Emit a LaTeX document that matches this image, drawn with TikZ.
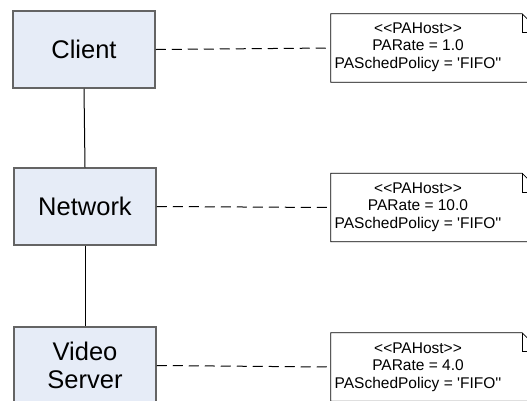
\documentclass[tikz,border=0pt]{standalone}
\usepackage{fontspec}
\setmainfont{Liberation Sans}
\definecolor{boxfill}{RGB}{230,236,247}
\definecolor{boxedge}{RGB}{100,100,100}
\tikzset{
  unit/.style={draw=boxedge, line width=1.5pt, fill=boxfill,
    minimum width=142pt, minimum height=77pt, inner sep=0pt,
    font=\fontsize{25.5}{28}\selectfont, align=center},
  notebox/.style={minimum width=210pt, minimum height=68pt, inner sep=0pt},
  notetext/.style={font=\fontsize{15.5}{17.5}\selectfont, align=center, inner sep=0pt},
  link/.style={line width=1pt, black},
  tie/.style={line width=1pt, black, dash pattern=on 10pt off 6pt},
  dogear/.style={line width=0.8pt, black}
}
% kerns keep the angle brackets from merging into guillemets
\newcommand{\hostnote}[1]{\textless\kern0pt\textless\kern0pt PAHost\kern0pt\textgreater\kern0pt\textgreater\\
  PARate = #1\\
  PASchedPolicy = \textquotesingle FIFO\textquotesingle\kern0pt\textquotesingle}
\begin{document}
\begin{tikzpicture}[x=1pt, y=-1pt]
  \useasboundingbox (0,0) rectangle (527,400);
  \clip (0,0) rectangle (527,400);

  % processing nodes
  \node[unit] (client)  at (84,49.5)   {Client};
  \node[unit] (network) at (85,206.5)  {Network};
  \node[unit] (video)   at (85,365.5)  {Video\\Server};

  % annotation notes (outline drawn below)
  \node[notebox] (n1) at (436,48)    {};
  \node[notebox] (n2) at (436,207.5) {};
  \node[notebox] (n3) at (436,367)   {};

  \foreach \n in {n1,n2,n3}{
    \draw[dogear] (\n.north west) -- ([xshift=-19pt]\n.north east)
      -- ([yshift=-19pt]\n.north east) -- (\n.south east)
      -- (\n.south west) -- cycle;
    \draw[dogear] ([xshift=-19pt]\n.north east) |- ([yshift=-19pt]\n.north east);
  }

  \node[notetext] (t1) at (418,47)  {\hostnote{1.0}};
  \node[notetext] (t2) at (418,207) {\hostnote{10.0}};
  \node[notetext] (t3) at (418,367) {\hostnote{4.0}};

  % communication links
  \draw[link] (client.south) -- (network.north);
  \draw[link] (network.south) -- (video.north);

  % attachments of the notes
  \draw[tie] (client.east)  -- (n1.west);
  \draw[tie] (network.east) -- (n2.west);
  \draw[tie] (video.east)   -- (n3.west);
\end{tikzpicture}
\end{document}
